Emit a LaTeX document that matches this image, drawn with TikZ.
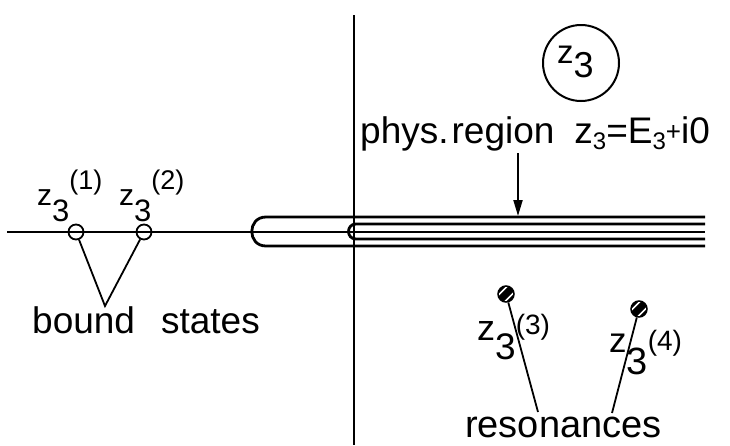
\documentclass[tikz,border=0pt]{standalone}
\usepackage{fontspec}
\setmainfont{Liberation Sans}
\usetikzlibrary{arrows.meta}
\newcommand{\fs}[1]{\fontsize{#1}{#1}\selectfont}
% z size, 3 size, drop of 3, kern, sup size, raise of sup, sup text
\newcommand{\zlab}[7]{{\fs{#1}z}\kern#4\raisebox{-#3}{\fs{#2}3}\raisebox{#6}{\fs{#5}(#7)}}
\tikzset{
  axisline/.style={line width=2pt},
  cutline/.style={line width=2.8pt},
  conn/.style={line width=1.8pt},
  txt/.style={anchor=base west, inner sep=0pt},
  boundmark/.style={circle, draw, line width=1.8pt, minimum size=15pt, inner sep=0pt},
  resmark/.style={circle, draw, line width=1.5pt, fill=black, minimum size=16pt, inner sep=0pt,
    path picture={
      \draw[white, line width=1.6pt]
        ([shift={(-8pt,-1.5pt)}]path picture bounding box.center) -- ([shift={(1.5pt,8pt)}]path picture bounding box.center)
        ([shift={(-1.5pt,-8pt)}]path picture bounding box.center) -- ([shift={(8pt,1.5pt)}]path picture bounding box.center);
    }},
}
\begin{document}
\begin{tikzpicture}[x=1pt, y=-1pt]
\useasboundingbox (0,0) rectangle (730,445);
% axes
\coordinate (vtop) at (354,15);
\coordinate (vbot) at (354,445);
\coordinate (hleft) at (7,232);
\coordinate (origin) at (354,232);
\coordinate (hright) at (705,232);
\draw[axisline] (vtop) -- (vbot);
\draw[axisline] (hleft) -- (origin);
\draw[cutline] (origin) -- (hright);
% outer hairpin
\draw[cutline] (705,217) -- (266,217) .. controls (247,217) and (247,246) .. (266,246) -- (705,246);
% inner hairpin
\draw[cutline] (705,224) -- (356,224) .. controls (346,224) and (346,239) .. (356,239) -- (705,239);
% circled variable
\node[circle, draw, line width=2pt, minimum size=76pt, inner sep=0pt] (zc) at (581,63) {};
\node[txt] (zct) at (557,63) {\fs{33pt}z\raisebox{-14pt}{\fs{36pt}3}};
% physical region label and arrow
\node[txt] (phys) at (360,143) {\fs{37pt}phys.\kern3pt region\hspace{20pt}z\raisebox{-6pt}{\fs{24pt}3}=E\raisebox{-6pt}{\fs{24pt}3}\raisebox{3pt}{\fs{26pt}+}i0};
\coordinate (arrS) at (518,153);
\coordinate (arrE) at (518,216);
\draw[line width=2pt, -{Triangle[length=16pt,width=9pt]}] (arrS) -- (arrE);
% bound states
\node[boundmark] (b1) at (76,232) {};
\node[boundmark] (b2) at (144,232) {};
\node[txt] (l1) at (37,205) {\zlab{30pt}{31pt}{16pt}{0pt}{27pt}{16pt}{1}};
\node[txt] (l2) at (119,205) {\zlab{30pt}{31pt}{16pt}{0pt}{27pt}{16pt}{2}};
\node[txt] (bs) at (32,333) {\fs{37pt}bound\hspace{26pt}states};
\coordinate (apex) at (105,306);
\draw[conn] (b1) -- (apex) -- (b2);
% resonances
\node[resmark] (r3) at (506,294) {};
\node[resmark] (r4) at (639,309) {};
\node[txt] (l3) at (477,340) {\zlab{36pt}{37pt}{19pt}{0pt}{28pt}{6pt}{3}};
\node[txt] (l4) at (609,352) {\zlab{35pt}{38pt}{22pt}{0pt}{28pt}{2pt}{4}};
\node[txt] (res) at (465,437) {\fs{38pt}resonances};
\coordinate (res3) at (538,412);
\coordinate (res4) at (612,413);
\draw[conn] (r3) -- (res3);
\draw[conn] (r4) -- (res4);
\end{tikzpicture}
\end{document}
